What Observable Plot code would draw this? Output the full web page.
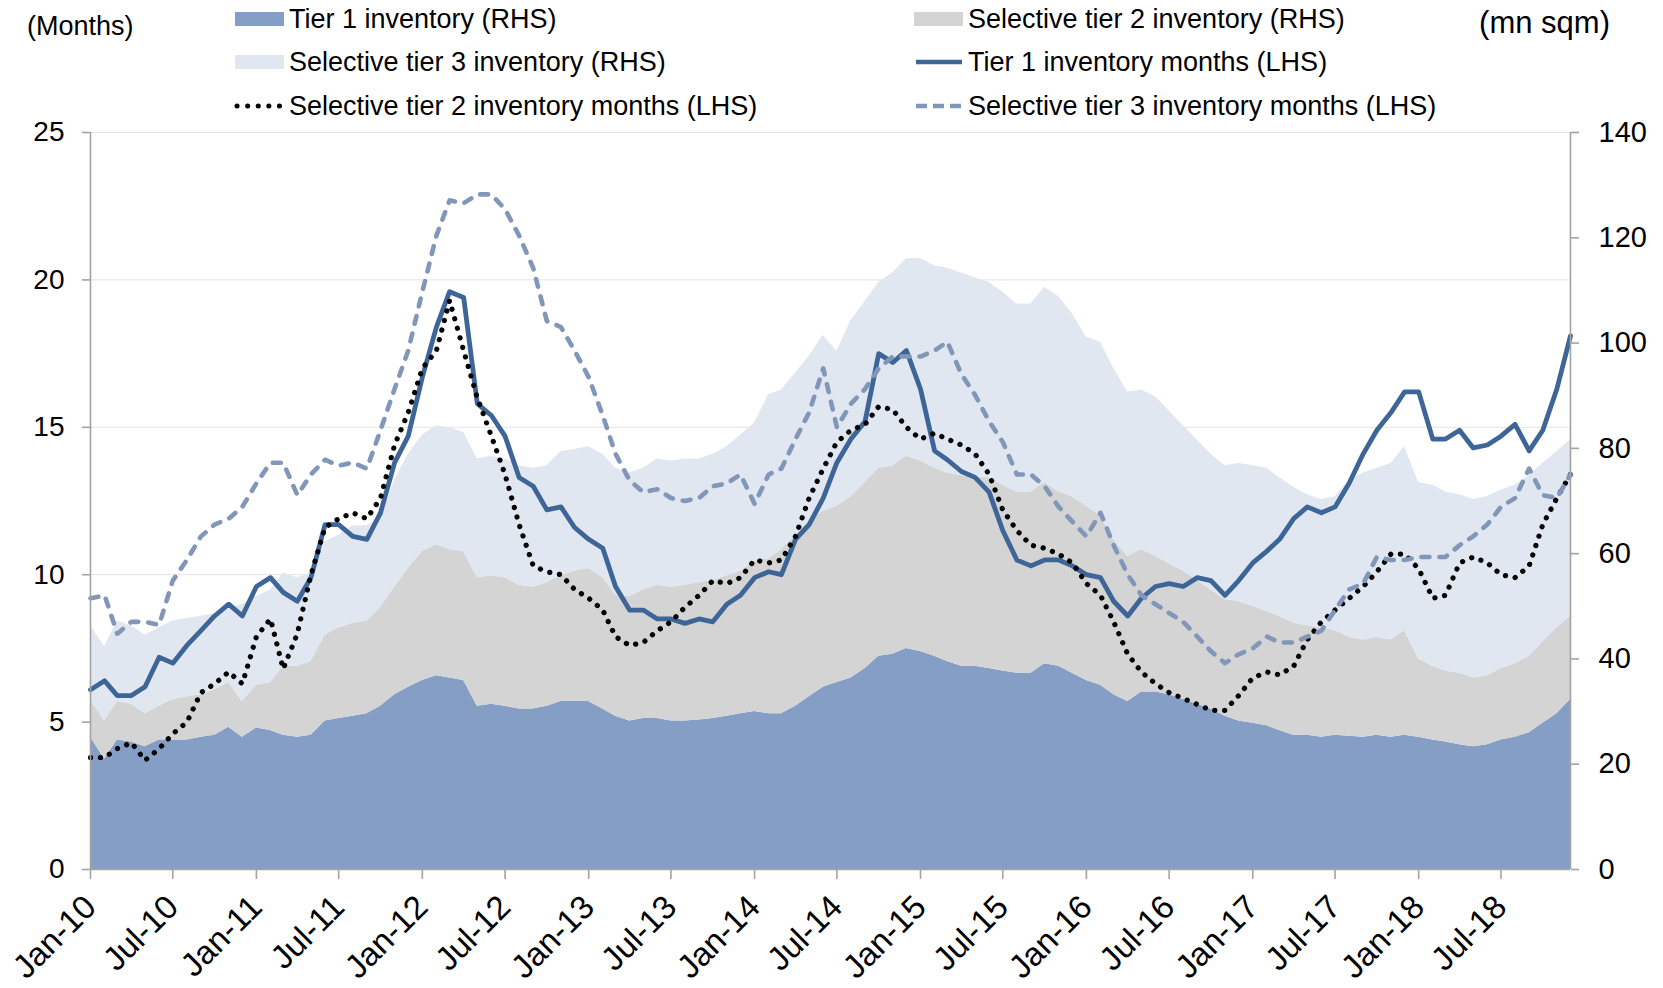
<!DOCTYPE html>
<html><head><meta charset="utf-8">
<script src="https://cdn.jsdelivr.net/npm/d3@7"></script>
<script src="https://cdn.jsdelivr.net/npm/@observablehq/plot@0.6"></script>
<style>
html,body{margin:0;padding:0;background:#fff;}
#chart{width:1663px;height:988px;}
</style></head><body><div id="chart"></div>
<script>
// ---- categories ----
const firstMonth = new Date(Date.UTC(2010, 0, 1));
const months = d3.utcMonth.range(firstMonth, new Date(Date.UTC(2019, 0, 1))); // Jan-10 .. Dec-18
const tickMonths = d3.utcMonth.every(6).range(firstMonth, new Date(Date.UTC(2018, 7, 1))); // Jan-10 .. Jul-18
const leftTicks = [0, 5, 10, 15, 20, 25];
const rightTicks = [0, 20, 40, 60, 80, 100, 120, 140];

// ---- series (RHS, mn sqm) ----
const tier1Inv = [
25.1,21.0,24.6,24.2,23.3,24.6,24.6,24.6,25.1,25.5,27.0,25.1,
26.9,26.4,25.5,25.1,25.5,28.2,28.7,29.1,29.6,31.0,33.2,34.6,
35.9,36.8,36.4,35.9,31.0,31.4,31.0,30.5,30.5,31.0,31.9,31.9,
31.9,30.5,29.1,28.2,28.7,28.7,28.2,28.2,28.4,28.7,29.1,29.6,
30.0,29.6,29.6,31.0,32.8,34.6,35.5,36.4,38.2,40.5,40.9,42.0,
41.4,40.5,39.5,38.6,38.6,38.2,37.7,37.3,37.3,39.1,38.6,37.3,
35.9,35.0,33.2,31.9,33.7,33.7,33.2,32.3,31.4,30.5,29.1,28.2,
27.8,27.3,26.4,25.5,25.5,25.1,25.5,25.3,25.1,25.5,25.1,25.5,
25.1,24.6,24.2,23.7,23.3,23.7,24.6,25.1,26.0,27.8,29.6,32.3];
const tier2Inv = [
7.2,7.2,7.3,7.2,6.3,6.4,7.7,8.2,8.1,8.6,8.5,6.8,
8.1,9.1,13.1,13.5,14.0,16.3,17.2,17.7,17.6,18.8,20.4,22.6,
24.5,24.9,24.4,24.5,24.4,24.4,24.4,23.5,23.1,23.5,23.9,24.8,
25.3,24.9,23.1,23.6,24.4,25.3,25.4,25.8,26.1,26.2,26.7,27.1,
28.6,29.4,31.2,32.5,33.4,33.5,33.5,34.4,35.3,35.7,35.8,36.5,
36.2,35.7,35.8,36.2,36.0,36.2,35.3,34.4,34.4,34.4,33.1,33.5,
33.1,32.1,29.4,27.6,27.1,25.8,24.9,24.4,23.5,22.6,22.2,22.7,
22.2,21.7,21.7,21.3,20.8,20.8,19.9,18.8,18.5,18.6,18.5,19.9,
14.9,14.0,13.5,13.6,13.1,13.1,13.6,14.0,14.5,15.4,16.3,15.8];
const tier3Inv = [
14.0,14.1,15.3,14.9,14.9,14.9,14.9,14.9,14.9,14.5,14.0,18.5,
16.8,17.6,17.7,16.8,16.8,17.7,17.6,18.5,18.1,16.9,20.3,21.7,
22.1,22.6,23.1,22.6,22.6,22.7,22.6,22.7,22.6,22.2,23.6,23.1,
23.1,23.5,24.0,23.5,23.1,24.0,24.0,24.0,23.5,24.0,24.5,25.8,
26.2,31.2,30.3,30.8,31.3,33.4,29.4,33.5,34.4,35.3,36.6,37.5,
38.4,38.5,38.9,38.5,37.8,37.1,36.7,35.7,35.7,37.1,37.1,34.8,
32.1,33.1,32.6,31.2,30.3,30.3,29.0,27.6,26.7,25.8,25.4,26.2,
26.7,27.2,26.3,25.8,24.9,24.4,25.4,29.8,31.7,32.1,33.5,34.9,
33.5,34.4,34.0,33.9,33.9,34.0,33.9,33.9,34.3,33.9,33.5,33.5];

// ---- series (LHS, months) ----
const tier1Months = [
6.1,6.4,5.9,5.9,6.2,7.2,7.0,7.6,8.1,8.6,9.0,8.6,
9.6,9.9,9.4,9.1,9.9,11.7,11.7,11.3,11.2,12.1,13.8,14.7,
16.7,18.4,19.6,19.4,15.8,15.4,14.7,13.3,13.0,12.2,12.3,11.6,
11.2,10.9,9.6,8.8,8.8,8.5,8.5,8.35,8.5,8.4,9.0,9.3,
9.9,10.1,10.0,11.2,11.7,12.6,13.8,14.6,15.2,17.5,17.2,17.6,
16.3,14.2,13.9,13.5,13.3,12.8,11.5,10.5,10.3,10.5,10.5,10.3,
10.0,9.9,9.1,8.6,9.2,9.6,9.7,9.6,9.9,9.8,9.3,9.8,
10.4,10.8,11.2,11.9,12.3,12.1,12.3,13.1,14.1,14.9,15.5,16.2,
16.2,14.6,14.6,14.9,14.3,14.4,14.7,15.1,14.2,14.9,16.3,18.1];
const tier2Months = [
3.8,3.8,4.1,4.3,3.7,4.1,4.6,5.0,6.0,6.3,6.7,6.3,
7.9,8.5,6.8,8.0,10.0,11.6,11.9,12.1,11.9,12.6,14.4,15.5,
17.0,17.6,19.3,17.6,16.0,14.7,13.4,11.7,10.3,10.1,10.0,9.5,
9.2,8.8,7.9,7.6,7.7,8.1,8.4,8.9,9.3,9.8,9.7,9.9,
10.5,10.4,10.5,11.3,12.6,13.6,14.5,14.9,15.1,15.7,15.6,15.0,
14.6,14.8,14.6,14.4,14.1,13.4,12.2,11.5,11.0,10.9,10.7,10.4,
9.7,9.3,8.4,7.3,6.7,6.3,6.0,5.8,5.6,5.4,5.4,5.9,
6.5,6.7,6.6,6.9,7.8,8.4,8.8,9.2,9.6,10.1,10.7,10.7,
10.2,9.2,9.3,10.4,10.6,10.4,10.0,9.9,10.3,11.7,12.6,13.4];
const tier3Months = [
9.2,9.3,8.0,8.4,8.4,8.3,9.8,10.5,11.3,11.7,11.9,12.3,
13.1,13.8,13.8,12.7,13.4,13.9,13.7,13.8,13.6,14.9,16.3,17.6,
19.6,21.5,22.7,22.6,22.9,22.9,22.4,21.5,20.4,18.6,18.4,17.6,
16.7,15.4,14.1,13.2,12.8,12.9,12.6,12.5,12.6,13.0,13.1,13.4,
12.4,13.4,13.6,14.6,15.5,17.0,15.0,15.8,16.3,17.0,17.4,17.4,
17.4,17.6,17.9,16.8,16.1,15.2,14.5,13.4,13.4,13.0,12.3,11.8,
11.3,12.1,11.0,10.0,9.3,9.0,8.7,8.4,7.9,7.4,7.0,7.3,
7.5,7.9,7.7,7.7,7.9,8.1,8.8,9.5,9.7,10.6,10.5,10.5,
10.6,10.6,10.6,11.0,11.3,11.7,12.3,12.6,13.6,12.7,12.6,13.4];

const areaSeries = ["Tier 1 inventory (RHS)", "Selective tier 2 inventory (RHS)", "Selective tier 3 inventory (RHS)"];
const areaColors = ["#849ec6", "#d4d4d4", "#e1e7f0"];
const lineSeries = ["Tier 1 inventory months (LHS)", "Selective tier 2 inventory months (LHS)", "Selective tier 3 inventory months (LHS)"];
const lineColors = ["#3d6598", "#000000", "#8196b9"];

const rhsToLhs = 25 / 140; // right axis 0-140 maps onto left axis 0-25
const areaValues = [tier1Inv, tier2Inv, tier3Inv];
const areaRows = areaSeries.flatMap((s, i) => months.map((date, j) => ({date, series: s, value: areaValues[i][j]})));
const lineRows = months.map((date, j) => ({date, t1: tier1Months[j], t2: tier2Months[j], t3: tier3Months[j]}));

const axisGray = "#a3a3a3";
const font = "'Liberation Sans', Arial, Helvetica, sans-serif";

const chart = Plot.plot({
  width: 1663, height: 988,
  marginLeft: 90, marginRight: 93, marginTop: 132, marginBottom: 119,
  style: {fontFamily: font, fontSize: "28px", background: "#fff", color: "#000", overflow: "visible"},
  x: {type: "utc", domain: [months[0], months[months.length - 1]], label: null},
  y: {domain: [0, 25], label: null},
  color: {domain: areaSeries, range: areaColors},
  marks: [
    Plot.gridY(leftTicks, {stroke: "#e3e3e3", strokeOpacity: 1, strokeWidth: 1}),
    Plot.areaY(areaRows, {x: "date", y: d => d.value * rhsToLhs, fill: "series", order: areaSeries}),
    Plot.lineY(lineRows, {x: "date", y: "t1", stroke: lineColors[0], strokeWidth: 4.8, strokeLinejoin: "round"}),
    Plot.lineY(lineRows, {x: "date", y: "t2", stroke: lineColors[1], strokeWidth: 5.2, strokeDasharray: "0.1 9.8", strokeLinecap: "round"}),
    Plot.lineY(lineRows, {x: "date", y: "t3", stroke: lineColors[2], strokeWidth: 4.6, strokeDasharray: "8 10", strokeLinecap: "round"}),
    Plot.ruleX([months[0], months[months.length - 1]], {stroke: axisGray, strokeWidth: 1.6}),
    Plot.ruleY([0], {stroke: axisGray, strokeWidth: 1.6}),
    Plot.axisY(leftTicks, {anchor: "left", tickSize: 8, tickPadding: 18, fontSize: 28, stroke: axisGray, strokeWidth: 1.6, fill: "#000", label: null}),
    Plot.axisY(rightTicks.map(v => v * rhsToLhs), {anchor: "right", tickSize: 8, tickPadding: 20, fontSize: 29, stroke: axisGray, strokeWidth: 1.6, fill: "#000", label: null,
      tickFormat: d => String(Math.round(d / rhsToLhs))}),
    Plot.axisX(tickMonths, {tickFormat: d3.utcFormat("%b-%y"), tickRotate: -45, tickSize: 10, tickPadding: 22, fontSize: 33, stroke: axisGray, strokeWidth: 1.6, fill: "#000", label: null})
  ]
});
document.getElementById("chart").appendChild(chart);

// ---- legend and unit labels ----
const svg = d3.select(chart);
const g = svg.append("g").attr("font-family", font).attr("fill", "#000").attr("text-anchor", "start");
g.append("text").attr("x", 27).attr("y", 26).attr("dy", "0.35em").attr("text-anchor", "start").attr("font-size", 27).text("(Months)");
g.append("text").attr("x", 1610).attr("y", 22).attr("dy", "0.35em").attr("text-anchor", "end").attr("font-size", 31).text("(mn sqm)");

const legendItems = [
  {label: areaSeries[0], kind: "area", color: areaColors[0], col: 0, row: 0},
  {label: areaSeries[1], kind: "area", color: areaColors[1], col: 1, row: 0},
  {label: areaSeries[2], kind: "area", color: areaColors[2], col: 0, row: 1},
  {label: lineSeries[0], kind: "solid", color: lineColors[0], col: 1, row: 1},
  {label: lineSeries[1], kind: "dot", color: lineColors[1], col: 0, row: 2},
  {label: lineSeries[2], kind: "dash", color: lineColors[2], col: 1, row: 2}
];
const colX = [235, 914];
const rowY = [19, 62, 106];
for (const it of legendItems) {
  const x0 = colX[it.col], y0 = rowY[it.row];
  if (it.kind === "area") {
    g.append("rect").attr("x", x0).attr("y", y0 - 7).attr("width", 49).attr("height", 14).attr("fill", it.color);
  } else {
    const ln = g.append("line").attr("x1", x0 + 2).attr("x2", x0 + 48).attr("y1", y0).attr("y2", y0)
      .attr("stroke", it.color).attr("stroke-width", it.kind === "dot" ? 5 : 4.6);
    if (it.kind === "dot") ln.attr("stroke-dasharray", "0.1 10.5").attr("stroke-linecap", "round");
    if (it.kind === "dash") ln.attr("stroke-dasharray", "11 6").attr("stroke-linecap", "butt");
  }
  g.append("text").attr("x", x0 + 54).attr("y", y0).attr("dy", "0.35em").attr("text-anchor", "start").attr("font-size", 27).text(it.label);
}
</script></body></html>
